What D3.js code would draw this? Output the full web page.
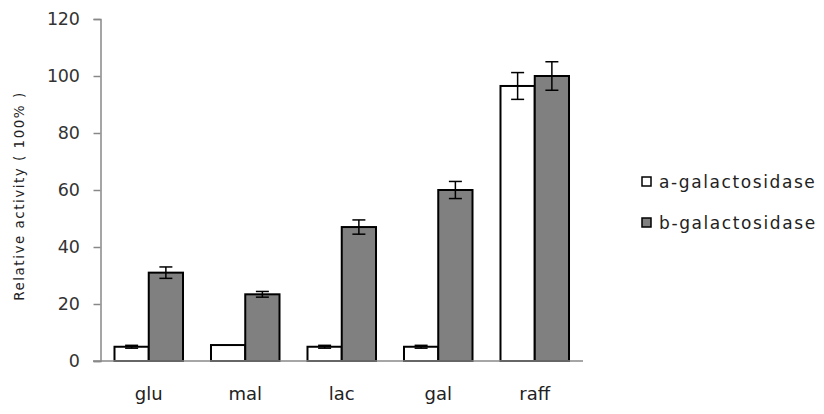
<!DOCTYPE html>
<html>
<head>
<meta charset="utf-8">
<script src="https://cdn.jsdelivr.net/npm/d3@7"></script>
<style>
  body { margin: 0; background: #fff; }
  text { font-family: "DejaVu Sans", sans-serif; }
</style>
</head>
<body>
<svg width="824" height="414"></svg>
<script>
var categories = ["glu", "mal", "lac", "gal", "raff"];
var seriesNames = ["a-galactosidase", "b-galactosidase"];
var aValues = [5, 5.6, 5, 5, 96.5];
var aErrors = [0.5, 0, 0.5, 0.5, 4.7];
var bValues = [31, 23.4, 47, 60, 100];
var bErrors = [2, 1, 2.5, 3, 5];
var yTicks = [0, 20, 40, 60, 80, 100, 120];

var colors = ["#ffffff", "#808080"];

var data = categories.map(function(c, i) {
  return [
    { cat: c, s: 0, v: aValues[i], e: aErrors[i] },
    { cat: c, s: 1, v: bValues[i], e: bErrors[i] }
  ];
});

var svg = d3.select("svg");

var xScale = d3.scaleBand()
  .domain(categories)
  .range([100.5, 583])
  .paddingInner(0.29)
  .paddingOuter(0.145);

var sub = d3.scaleBand()
  .domain([0, 1])
  .range([0, xScale.bandwidth()]);

var yScale = d3.scaleLinear()
  .domain([0, 120])
  .range([361, 19]);

// y axis
var yAxis = svg.append("g")
  .attr("transform", "translate(100.5,0)")
  .call(d3.axisLeft(yScale).tickValues(yTicks).tickSize(7).tickPadding(14));
yAxis.select(".domain").attr("stroke", "#888").attr("stroke-width", 1.5);
yAxis.selectAll(".tick line").attr("stroke", "#888").attr("stroke-width", 1.5);
yAxis.selectAll(".tick text")
  .attr("font-size", 17.5)
  .attr("letter-spacing", -0.3)
  .attr("fill", "#333");

// bars
var groups = svg.selectAll(".grp")
  .data(data)
  .enter()
    .append("g")
    .attr("class", "grp")
    .attr("transform", d => "translate(" + xScale(d[0].cat) + ",0)");

groups.selectAll("rect")
  .data(d => d)
  .enter()
    .append("rect")
    .attr("x", d => sub(d.s))
    .attr("y", d => yScale(d.v))
    .attr("width", sub.bandwidth())
    .attr("height", d => yScale(0) - yScale(d.v))
    .attr("fill", d => colors[d.s])
    .attr("stroke", "#000")
    .attr("stroke-width", 2);

// error bars
var err = groups.selectAll(".err")
  .data(d => d.filter(p => p.e > 0))
  .enter()
    .append("g")
    .attr("class", "err")
    .attr("stroke", "#000")
    .attr("stroke-width", 1.5);

err.append("line")
  .attr("x1", d => sub(d.s) + sub.bandwidth() / 2)
  .attr("x2", d => sub(d.s) + sub.bandwidth() / 2)
  .attr("y1", d => yScale(d.v + d.e))
  .attr("y2", d => yScale(d.v - d.e));
err.append("line")
  .attr("x1", d => sub(d.s) + sub.bandwidth() / 2 - 6.5)
  .attr("x2", d => sub(d.s) + sub.bandwidth() / 2 + 6.5)
  .attr("y1", d => yScale(d.v + d.e))
  .attr("y2", d => yScale(d.v + d.e));
err.append("line")
  .attr("x1", d => sub(d.s) + sub.bandwidth() / 2 - 6.5)
  .attr("x2", d => sub(d.s) + sub.bandwidth() / 2 + 6.5)
  .attr("y1", d => yScale(d.v - d.e))
  .attr("y2", d => yScale(d.v - d.e));

// x axis
var xAxis = svg.append("g")
  .attr("transform", "translate(0,361)")
  .call(d3.axisBottom(xScale).tickSize(0).tickPadding(26).tickSizeOuter(0));
xAxis.select(".domain").attr("stroke", "#888").attr("stroke-width", 1.5)
  .attr("d", "M93,0H583");
xAxis.selectAll(".tick text")
  .attr("font-size", 18)
  .attr("fill", "#222");

// y title
svg.append("text")
  .attr("transform", "translate(24,196) rotate(-90)")
  .attr("text-anchor", "middle")
  .attr("font-size", 13.5)
  .attr("letter-spacing", 1.5)
  .attr("fill", "#222")
  .text("Relative  activity ( 100% )");

// legend
var legend = svg.selectAll(".leg")
  .data(seriesNames)
  .enter()
    .append("g")
    .attr("class", "leg")
    .attr("transform", (d, i) => "translate(642," + (182 + i * 41) + ")");

legend.append("rect")
  .attr("x", 0)
  .attr("y", -5)
  .attr("width", 9)
  .attr("height", 9)
  .attr("fill", (d, i) => colors[i])
  .attr("stroke", "#000")
  .attr("stroke-width", 1.5);

legend.append("text")
  .attr("x", 17)
  .attr("y", 0)
  .attr("dy", "0.35em")
  .attr("font-size", 17)
  .attr("letter-spacing", 1.6)
  .attr("fill", "#222")
  .text(d => d);
</script>
</body>
</html>
